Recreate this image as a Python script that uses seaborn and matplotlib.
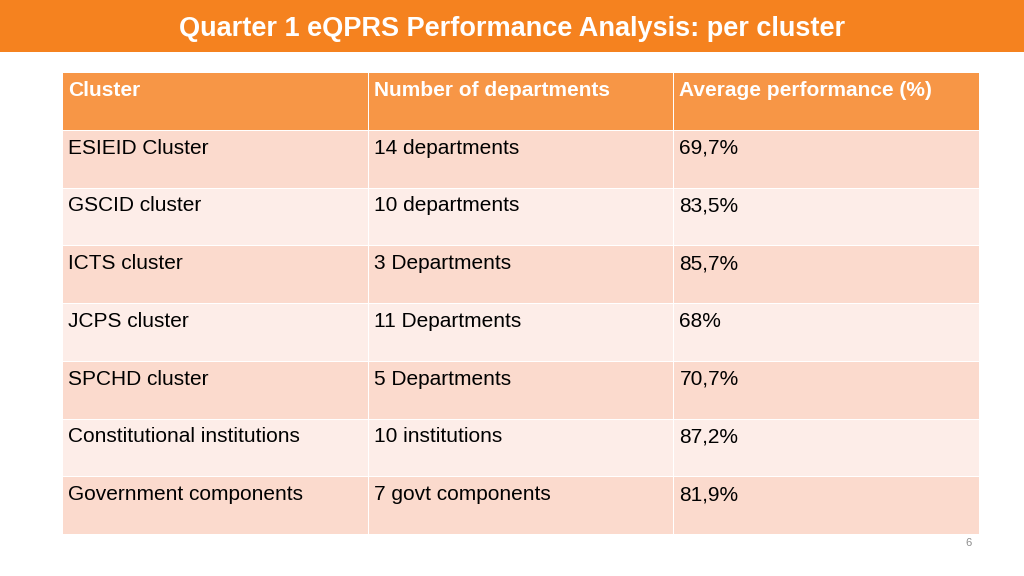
import numpy as np
import matplotlib
matplotlib.use('Agg')
import matplotlib.pyplot as plt
import seaborn as sns
from matplotlib.colors import ListedColormap

title = 'Quarter 1 eQPRS Performance Analysis: per cluster'
columns = ['Cluster', 'Number of departments', 'Average performance (%)']
clusters = ['ESIEID Cluster', 'GSCID cluster', 'ICTS cluster', 'JCPS cluster',
            'SPCHD cluster', 'Constitutional institutions', 'Government components']
departments = ['14 departments', '10 departments', '3 Departments', '11 Departments',
               '5 Departments', '10 institutions', '7 govt components']
performance = [69.7, 83.5, 85.7, 68.0, 70.7, 87.2, 81.9]
page_number = '6'


def fmt_pct(v):
    s = ('%.1f' % v).rstrip('0').rstrip('.')
    return s.replace('.', ',') + '%'


sns.set_theme(style='white')
plt.rcParams['font.family'] = ['Liberation Sans', 'DejaVu Sans']

n_rows = len(clusters) + 1
# 2 = header, 1 = dark band, 0 = light band
codes = np.zeros((n_rows, len(columns)))
codes[0, :] = 2
for i in range(len(clusters)):
    codes[i + 1, :] = 1 if i % 2 == 0 else 0

cmap = ListedColormap(['#FDEDE8', '#FBDACD', '#F79646'])

fig = plt.figure(figsize=(10.24, 5.76), dpi=100)
fig.patch.set_facecolor('white')

# title band
band = fig.add_axes([0, 1 - 52 / 576, 1, 52 / 576])
band.set_facecolor('#F5821F')
band.set_xticks([])
band.set_yticks([])
for s in band.spines.values():
    s.set_visible(False)
band.text(0.5, 0.45, title, ha='center', va='center', color='white',
          fontsize=19.5, fontweight='bold')

ax = fig.add_axes([62 / 1024, 42 / 576, 917 / 1024, 462 / 576])
sns.heatmap(codes, cmap=cmap, vmin=-0.5, vmax=2.5, cbar=False, linewidths=0.6,
            linecolor='white', xticklabels=False, yticklabels=False, ax=ax)

for j, name in enumerate(columns):
    ax.text(j + 0.02, 0.32, name, ha='left', va='center', color='white',
            fontsize=15, fontweight='bold')

for i, (c, d, p) in enumerate(zip(clusters, departments, performance)):
    r = i + 1
    for j, val in enumerate([c, d, fmt_pct(p)]):
        ax.text(j + 0.02, r + 0.32, val, ha='left', va='center', color='black',
                fontsize=15)

fig.text(968 / 1024, 1 - 543 / 576, page_number, ha='center', va='center',
         color='#8C8C8C', fontsize=8)

plt.savefig('out.png', dpi=100)
